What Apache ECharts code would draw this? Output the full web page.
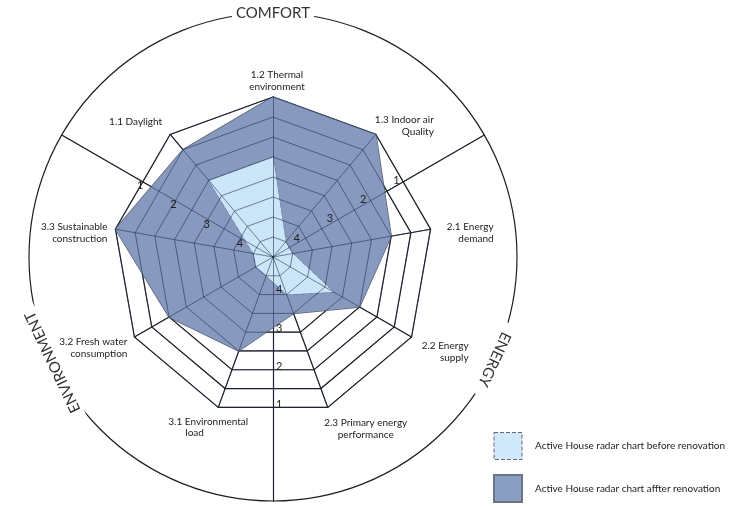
<!DOCTYPE html>
<html>
<head>
<meta charset="utf-8">
<script src="https://cdn.jsdelivr.net/npm/echarts@6/dist/echarts.min.js"></script>
<style>
html,body{margin:0;padding:0;background:#fff;}
#c{width:742px;height:508px;}
</style>
</head>
<body>
<div id="c"></div>
<script>
// ---- data ----
const categories = ['1.2 Thermal\nenvironment','1.1 Daylight','3.3 Sustainable\nconstruction','3.2 Fresh water\nconsumption','3.1 Environmental\nload','2.3 Primary energy\nperformance','2.2 Energy\nsupply','2.1 Energy\ndemand','1.3 Indoor air\nQuality'];
const afterLevels  = [8, 7, 8, 6, 5, 3, 5, 6, 8];
const beforeLevels = [5, 5, 1, 1, 1, 2, 3.5, 1, 1];
const seriesNames = ['Active House radar chart before renovation', 'Active House radar chart affter renovation'];
const tickLabels = [1, 2, 3, 4];
const sectorNames = ['COMFORT', 'ENERGY', 'ENVIRONMENT'];

// ---- layout / style ----
const CX = 273, CY = 257, RADAR_R = 160, CIRCLE_R = 244, MAX_LEVEL = 8;
const FONT = 'Lato, "Open Sans", sans-serif';
const dividerAngles = [30, -90, 150];
const sectorAngles = [90, -24.8, 205.5];
// label box placement relative to each outer vertex: [align, dx, dy(top)]
const nameLayout = [
  ['center', 4, -28], ['right', -8, -19], ['right', -8, -8], ['right', -7, -1],
  ['left', -50, 9], ['center', 38, 9], ['right', 57, 3], ['right', 63, -8], ['right', 58, -21]
];

const chart = echarts.init(document.getElementById('c'));

const indicators = categories.map(n => ({ name: n, min: 0, max: MAX_LEVEL }));
const radarBase = {
  center: [CX, CY], radius: RADAR_R, startAngle: 90, shape: 'polygon', splitNumber: 8,
  indicator: indicators, splitArea: { show: false }, axisName: { show: false }
};

const polars = [], angleAxes = [], radiusAxes = [];
[false, true].forEach((over) => {
  dividerAngles.forEach((a, i) => {
    const idx = polars.length;
    polars.push({ center: [CX, CY], radius: CIRCLE_R });
    const showCircle = (!over && i === 0);
    angleAxes.push({
      polarIndex: idx, type: 'value', min: 0, max: 360, startAngle: a,
      show: showCircle, z: 1,
      axisLine: { show: true, lineStyle: { color: '#1e1e1e', width: 1.2 } },
      axisTick: { show: false }, axisLabel: { show: false },
      splitLine: { show: false }, splitArea: { show: false }
    });
    radiusAxes.push({
      polarIndex: idx, type: 'value', min: -1.5, max: 4.85, inverse: true,
      z: over ? 8 : 1,
      axisLine: { show: true, lineStyle: { color: over ? 'rgba(25,40,70,0.55)' : '#1e1e1e', width: over ? 1 : 1.2 } },
      axisTick: { show: false }, splitLine: { show: false }, splitArea: { show: false },
      axisLabel: over ? { show: true, customValues: tickLabels, margin: 3, fontSize: 11, color: '#222', fontFamily: FONT } : { show: false }
    });
  });
});

// sector titles on the outer circle
const graphics = sectorNames.map((t, i) => {
  const a = sectorAngles[i] * Math.PI / 180;
  return {
    type: 'text', z: 100,
    x: CX + CIRCLE_R * Math.cos(a), y: CY - CIRCLE_R * Math.sin(a),
    rotation: i === 0 ? 0 : (sectorAngles[i] - 90) * Math.PI / 180,
    style: { text: t, fill: '#333', font: '15px ' + FONT, align: 'center', verticalAlign: 'middle',
             backgroundColor: '#fff', padding: i === 0 ? [0, 4] : [0, 10] }
  };
});
// indicator names placed next to the radar's outer vertices
categories.forEach((name, i) => {
  const ang = (90 + i * 360 / categories.length) * Math.PI / 180;
  const vx = CX + RADAR_R * Math.cos(ang), vy = CY - RADAR_R * Math.sin(ang);
  const [align, dx, dy] = nameLayout[i];
  const parts = name.split('\n');
  const isIndented = (i === 4);
  graphics.push({
    type: 'text', z: 50, x: vx + dx, y: vy + dy,
    style: isIndented ? {
      text: '{a|' + parts[0] + '}\n{b|' + parts[1] + '}', align: align, verticalAlign: 'top',
      rich: { a: { fill: '#222', font: '10px ' + FONT, lineHeight: 11 },
              b: { fill: '#222', font: '10px ' + FONT, lineHeight: 11, padding: [0, 0, 0, 17] } }
    } : {
      text: name, fill: '#222', font: '10px ' + FONT, lineHeight: 12, align: align, verticalAlign: 'top'
    }
  });
});

chart.setOption({
  animation: false,
  backgroundColor: '#fff',
  radar: [
    Object.assign({}, radarBase, {
      z: 1,
      splitLine: { lineStyle: { color: '#1e1e1e', width: 1.2 } },
      axisLine: { lineStyle: { color: '#1e1e1e', width: 1.2 } }
    }),
    Object.assign({}, radarBase, {
      z: 6,
      splitLine: { lineStyle: { color: 'rgba(25,40,70,0.55)', width: 1 } },
      axisLine: { lineStyle: { color: 'rgba(25,40,70,0.55)', width: 1 } }
    })
  ],
  polar: polars, angleAxis: angleAxes, radiusAxis: radiusAxes,
  legend: {
    orient: 'vertical', left: 493, top: 432, padding: 0, itemWidth: 28, itemHeight: 27, itemGap: 14,
    textStyle: { fontSize: 10, color: '#222', fontFamily: FONT, padding: [0, 0, 0, 8] },
    selectedMode: false,
    data: [
      { name: seriesNames[0], icon: 'rect', itemStyle: { color: '#d2e9fb', borderColor: '#667', borderWidth: 1, borderType: 'dashed' } },
      { name: seriesNames[1], icon: 'rect', itemStyle: { color: '#8b9fc4', borderColor: '#6b7484', borderWidth: 2 } }
    ]
  },
  series: [{
    type: 'radar', radarIndex: 0, symbol: 'none', z: 2,
    data: [
      { name: seriesNames[1], value: afterLevels,
        itemStyle: { color: '#8799bf' },
        areaStyle: { color: '#8799bf', opacity: 1 },
        lineStyle: { color: '#5b6579', width: 1.5 } },
      { name: seriesNames[0], value: beforeLevels,
        itemStyle: { color: '#cbe6f9' },
        areaStyle: { color: '#cbe6f9', opacity: 1 },
        lineStyle: { color: '#5e7891', width: 1.2, type: 'dashed' } }
    ]
  }],
  graphic: graphics
});
</script>
</body>
</html>
